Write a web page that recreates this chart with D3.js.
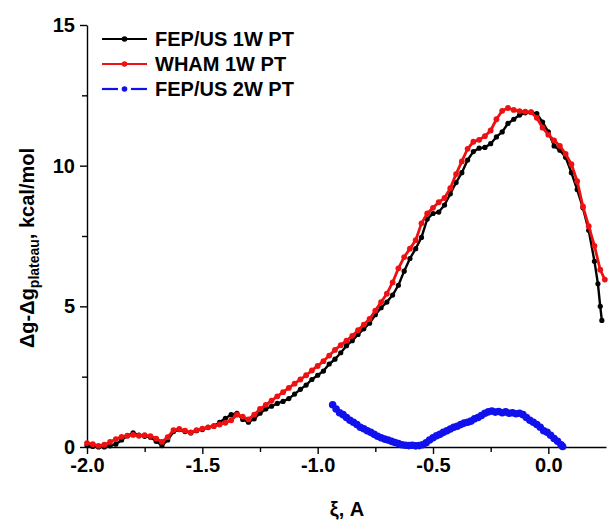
<!DOCTYPE html>
<html><head><meta charset="utf-8">
<script src="https://cdn.jsdelivr.net/npm/d3@7"></script>
<style>
html,body{margin:0;padding:0;background:#fff;}
svg text{font-family:"Liberation Sans",Arial,sans-serif;font-weight:bold;}
</style></head>
<body>
<svg id="chart" width="612" height="530"></svg>
<script>
// ---- data ----
const fep1X = [-2.000,-1.975,-1.950,-1.925,-1.900,-1.875,-1.850,-1.825,-1.800,-1.775,-1.750,-1.725,-1.700,-1.675,-1.650,-1.625,-1.600,-1.575,-1.550,-1.525,-1.500,-1.475,-1.450,-1.425,-1.400,-1.375,-1.350,-1.325,-1.300,-1.275,-1.250,-1.225,-1.200,-1.175,-1.150,-1.125,-1.100,-1.075,-1.050,-1.025,-1.000,-0.975,-0.950,-0.925,-0.900,-0.875,-0.850,-0.825,-0.800,-0.775,-0.750,-0.725,-0.700,-0.675,-0.650,-0.625,-0.600,-0.575,-0.550,-0.525,-0.500,-0.475,-0.450,-0.425,-0.400,-0.375,-0.350,-0.325,-0.300,-0.275,-0.250,-0.225,-0.200,-0.175,-0.150,-0.125,-0.100,-0.075,-0.050,-0.025,0.000,0.025,0.050,0.075,0.100,0.125,0.150,0.175,0.200,0.215,0.225,0.232];
const fep1Y = [0.05,0.02,0.00,0.00,0.04,0.10,0.25,0.40,0.50,0.42,0.38,0.35,0.20,0.05,0.25,0.55,0.62,0.55,0.50,0.58,0.62,0.70,0.75,0.88,1.02,1.15,1.20,0.98,0.88,1.00,1.20,1.35,1.45,1.55,1.62,1.72,1.88,2.05,2.20,2.40,2.55,2.70,2.95,3.12,3.35,3.60,3.78,4.00,4.20,4.40,4.70,4.95,5.15,5.40,5.75,6.25,6.70,7.05,7.45,8.10,8.30,8.35,8.60,9.00,9.40,9.75,10.20,10.50,10.62,10.65,10.78,11.02,11.20,11.50,11.65,11.80,11.88,11.90,11.85,11.55,11.20,10.70,10.55,10.30,9.75,9.15,8.50,7.70,6.60,5.80,5.00,4.50];

const whamX = [-2.000,-1.975,-1.950,-1.925,-1.900,-1.875,-1.850,-1.825,-1.800,-1.775,-1.750,-1.725,-1.700,-1.675,-1.650,-1.625,-1.600,-1.575,-1.550,-1.525,-1.500,-1.475,-1.450,-1.425,-1.400,-1.375,-1.350,-1.325,-1.300,-1.275,-1.250,-1.225,-1.200,-1.175,-1.150,-1.125,-1.100,-1.075,-1.050,-1.025,-1.000,-0.975,-0.950,-0.925,-0.900,-0.875,-0.850,-0.825,-0.800,-0.775,-0.750,-0.725,-0.700,-0.675,-0.650,-0.625,-0.600,-0.575,-0.550,-0.525,-0.500,-0.475,-0.450,-0.425,-0.400,-0.375,-0.350,-0.325,-0.300,-0.275,-0.250,-0.225,-0.200,-0.175,-0.150,-0.125,-0.100,-0.075,-0.050,-0.025,0.000,0.025,0.050,0.075,0.100,0.125,0.150,0.175,0.200,0.225,0.245];
const whamY = [0.14,0.10,0.04,0.08,0.18,0.28,0.36,0.40,0.43,0.40,0.42,0.39,0.30,0.18,0.35,0.60,0.64,0.58,0.52,0.60,0.65,0.70,0.74,0.80,0.86,0.95,1.15,1.08,0.98,1.15,1.35,1.50,1.65,1.80,1.95,2.10,2.25,2.40,2.55,2.72,2.88,3.05,3.25,3.45,3.62,3.78,3.95,4.15,4.35,4.55,4.85,5.15,5.45,5.85,6.35,6.75,7.05,7.35,7.95,8.30,8.50,8.70,8.85,9.20,9.70,10.15,10.60,10.85,10.92,11.05,11.25,11.65,11.95,12.05,11.98,11.94,11.92,11.90,11.70,11.35,11.10,10.90,10.70,10.42,10.05,9.45,8.55,7.85,7.15,6.30,5.95];

const fep2X = [-0.935,-0.920,-0.905,-0.890,-0.875,-0.860,-0.845,-0.830,-0.815,-0.800,-0.785,-0.770,-0.755,-0.740,-0.725,-0.710,-0.695,-0.680,-0.665,-0.650,-0.635,-0.620,-0.605,-0.590,-0.575,-0.560,-0.545,-0.530,-0.515,-0.500,-0.485,-0.470,-0.455,-0.440,-0.425,-0.410,-0.395,-0.380,-0.365,-0.350,-0.335,-0.320,-0.305,-0.290,-0.275,-0.260,-0.245,-0.230,-0.215,-0.200,-0.185,-0.170,-0.155,-0.140,-0.125,-0.110,-0.095,-0.080,-0.065,-0.050,-0.035,-0.020,-0.005,0.010,0.025,0.040,0.055,0.062];
const fep2Y = [1.50,1.35,1.22,1.15,1.05,0.95,0.88,0.80,0.70,0.65,0.58,0.52,0.45,0.38,0.33,0.28,0.25,0.20,0.16,0.12,0.08,0.06,0.05,0.06,0.04,0.05,0.08,0.15,0.25,0.33,0.40,0.45,0.52,0.58,0.64,0.70,0.74,0.80,0.85,0.88,0.92,1.00,1.05,1.12,1.20,1.25,1.28,1.24,1.26,1.22,1.25,1.20,1.22,1.18,1.20,1.15,1.05,0.95,0.88,0.80,0.70,0.58,0.52,0.42,0.30,0.20,0.08,0.02];

const xTicks = [-2.0,-1.5,-1.0,-0.5,0.0];
const xMinorTicks = [-1.75,-1.25,-0.75,-0.25];
const yTicks = [0,5,10,15];
const yMinorTicks = [2.5,7.5,12.5];
const seriesNames = ["FEP/US 1W PT","WHAM 1W PT","FEP/US 2W PT"];
const seriesColors = ["#000000","#ee1111","#1111ee"];

// ---- chart ----
const svg = d3.select("#chart");
const mLeft = 87, mRight = 606, mTop = 25, mBottom = 447;
const x = d3.scaleLinear().domain([-2.0, 0.25]).range([mLeft, mRight]);
const y = d3.scaleLinear().domain([0, 15]).range([mBottom, mTop]);

// axes
const xAxis = d3.axisBottom(x).tickValues(xTicks).tickFormat(d => d3.format(".1f")(d).replace("−","-")).tickSize(7).tickSizeOuter(0).tickPadding(4);
svg.append("g").attr("transform", `translate(0,${mBottom})`).call(xAxis);
svg.append("g").attr("transform", `translate(0,${mBottom})`)
  .call(d3.axisBottom(x).tickValues(xMinorTicks).tickFormat("").tickSize(5).tickSizeOuter(0))
  .select(".domain").remove();

const yAxis = d3.axisLeft(y).tickValues(yTicks).tickFormat(d3.format("d")).tickSize(7).tickSizeOuter(0).tickPadding(5);
svg.append("g").attr("transform", `translate(${mLeft},0)`).call(yAxis);
svg.append("g").attr("transform", `translate(${mLeft},0)`)
  .call(d3.axisLeft(y).tickValues(yMinorTicks).tickFormat("").tickSize(5).tickSizeOuter(0))
  .select(".domain").remove();

svg.selectAll(".domain").attr("stroke","#000").attr("stroke-width",1.4);
svg.selectAll(".tick line").attr("stroke","#000").attr("stroke-width",1.4);
svg.selectAll(".tick text").attr("font-size",20).attr("font-family","Liberation Sans, Arial, sans-serif").attr("font-weight","bold").attr("fill","#000");

// axis titles
svg.append("text").attr("x", 347).attr("y", 516).attr("text-anchor","middle")
  .attr("font-size",20).text("ξ, A");
const yl = svg.append("text").attr("transform","translate(34,248) rotate(-90)").attr("text-anchor","middle").attr("font-size",20);
yl.append("tspan").text("Δg-Δg");
yl.append("tspan").attr("font-size",14).attr("dy",5).text("plateau");
yl.append("tspan").attr("dy",-5).text(", kcal/mol");

// series
const line = d3.line().x(d => x(d[0])).y(d => y(d[1]));
function drawSeries(xs, ys, color, lw, r) {
  const pts = xs.map((v,i) => [v, ys[i]]);
  const g = svg.append("g");
  g.append("path").datum(pts).attr("d", line).attr("fill","none").attr("stroke",color).attr("stroke-width",lw).attr("stroke-linejoin","round");
  g.selectAll("circle").data(pts).join("circle").attr("cx",d=>x(d[0])).attr("cy",d=>y(d[1])).attr("r",r).attr("fill",color);
}
drawSeries(fep1X, fep1Y, seriesColors[0], 2.4, 2.6);
drawSeries(whamX, whamY, seriesColors[1], 2.8, 2.9);
drawSeries(fep2X, fep2Y, seriesColors[2], 3.5, 3.8);

// legend
const legY = [39, 64, 89];
seriesNames.forEach((name, i) => {
  const g = svg.append("g");
  if (i < 2) {
    g.append("line").attr("x1",102).attr("x2",147).attr("y1",legY[i]).attr("y2",legY[i]).attr("stroke",seriesColors[i]).attr("stroke-width",2.2);
  } else {
    g.append("line").attr("x1",102).attr("x2",118).attr("y1",legY[i]).attr("y2",legY[i]).attr("stroke",seriesColors[i]).attr("stroke-width",2.2);
    g.append("line").attr("x1",131).attr("x2",147).attr("y1",legY[i]).attr("y2",legY[i]).attr("stroke",seriesColors[i]).attr("stroke-width",2.2);
  }
  g.append("circle").attr("cx",124.5).attr("cy",legY[i]).attr("r",2.8).attr("fill",seriesColors[i]);
  g.append("text").attr("x",155).attr("y",legY[i]+7).attr("font-size",20).attr("fill","#000").text(name);
});
</script>
</body></html>
